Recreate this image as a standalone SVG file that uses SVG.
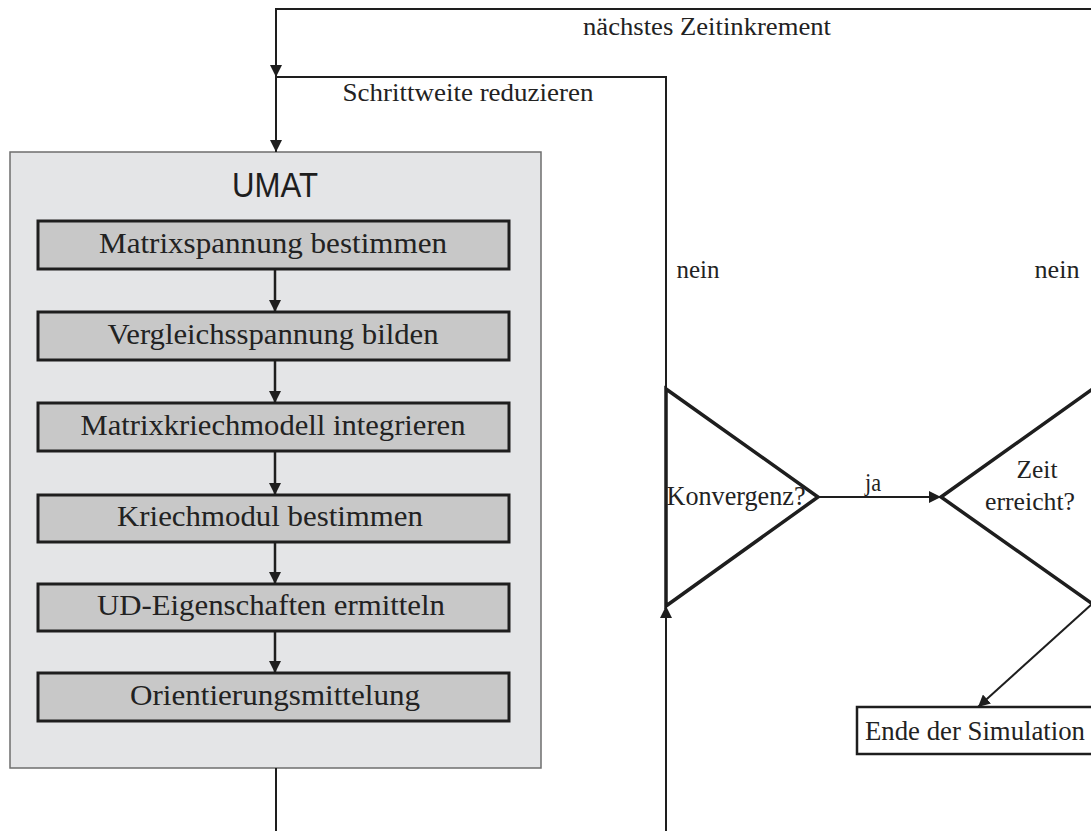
<svg xmlns="http://www.w3.org/2000/svg" width="1091" height="831" viewBox="0 0 1091 831">
<style>
.t{font-family:"Liberation Serif","DejaVu Serif",serif;fill:#222;text-anchor:middle}
.bt{font-size:30px}
.lb{font-size:25px}
.box{fill:#c8c8c8;stroke:#1e1e1e;stroke-width:3}
.tri{fill:#fff;stroke:#1e1e1e;stroke-width:3.5;stroke-linejoin:miter}
.c{fill:none;stroke:#1e1e1e;stroke-width:2}
.ci{fill:none;stroke:#1e1e1e;stroke-width:2.5}
</style>
<defs>
<marker id="ah" viewBox="0 0 10 10" refX="10" refY="5" markerWidth="12" markerHeight="12" markerUnits="userSpaceOnUse" orient="auto">
<path d="M0,0 L10,5 L0,10 z" fill="#1e1e1e"/>
</marker>
</defs>
<rect width="1091" height="831" fill="#fff"/>
<g id="umat">
<rect x="10" y="152" width="531" height="616" fill="#e4e5e7" stroke="#6e6e6e" stroke-width="1.5"/>
<text x="275" y="197" font-family="Liberation Sans, Arial, sans-serif" font-size="35" fill="#1e1e1e" text-anchor="middle" textLength="86" lengthAdjust="spacingAndGlyphs">UMAT</text>
</g>
<g id="n1"><rect class="box" x="38" y="221" width="471" height="48"/><text class="t bt" x="273" y="253" textLength="348" lengthAdjust="spacingAndGlyphs">Matrixspannung bestimmen</text></g>
<g id="n2"><rect class="box" x="38" y="312" width="471" height="48"/><text class="t bt" x="273" y="344" textLength="331" lengthAdjust="spacingAndGlyphs">Vergleichsspannung bilden</text></g>
<g id="n3"><rect class="box" x="38" y="403" width="471" height="48"/><text class="t bt" x="273" y="435" textLength="385" lengthAdjust="spacingAndGlyphs">Matrixkriechmodell integrieren</text></g>
<g id="n4"><rect class="box" x="38" y="495" width="471" height="47"/><text class="t bt" x="270" y="526" textLength="306" lengthAdjust="spacingAndGlyphs">Kriechmodul bestimmen</text></g>
<g id="n5"><rect class="box" x="38" y="584" width="471" height="47"/><text class="t bt" x="271" y="615" textLength="348" lengthAdjust="spacingAndGlyphs">UD-Eigenschaften ermitteln</text></g>
<g id="n6"><rect class="box" x="38" y="673" width="471" height="48"/><text class="t bt" x="275" y="705" textLength="290" lengthAdjust="spacingAndGlyphs">Orientierungsmittelung</text></g>
<g id="konvergenz">
<polygon class="tri" points="666,389 666,606 818,497"/>
<text class="t" x="736" y="505" font-size="27" textLength="139" lengthAdjust="spacingAndGlyphs">Konvergenz?</text>
</g>
<g id="zeit">
<polygon class="tri" points="941,497 1094,388 1094,605"/>
<text class="t" x="1037" y="478" font-size="26" textLength="41" lengthAdjust="spacingAndGlyphs">Zeit</text>
<text class="t" x="1030" y="510" font-size="26" textLength="90" lengthAdjust="spacingAndGlyphs">erreicht?</text>
</g>
<g id="ende">
<rect x="857" y="707" width="240" height="47" fill="#fff" stroke="#1e1e1e" stroke-width="2.5"/>
<text class="t" x="975" y="740" font-size="28" textLength="220" lengthAdjust="spacingAndGlyphs">Ende der Simulation</text>
</g>
<g id="connectors">
<line class="ci" x1="275" y1="269" x2="275" y2="312" marker-end="url(#ah)"/>
<line class="ci" x1="275" y1="360" x2="275" y2="403" marker-end="url(#ah)"/>
<line class="ci" x1="275" y1="451" x2="275" y2="495" marker-end="url(#ah)"/>
<line class="ci" x1="275" y1="542" x2="275" y2="584" marker-end="url(#ah)"/>
<line class="ci" x1="275" y1="631" x2="275" y2="673" marker-end="url(#ah)"/>
<path class="c" d="M1094,388 V9 H276 V77" marker-end="url(#ah)"/>
<path class="c" d="M666,389 V77 H276 V152" marker-end="url(#ah)"/>
<line class="c" x1="276" y1="768" x2="276" y2="831"/>
<line class="c" x1="666" y1="831" x2="666" y2="606" marker-end="url(#ah)"/>
<line class="c" x1="818" y1="497" x2="941" y2="497" marker-end="url(#ah)"/>
<line class="c" x1="1092" y1="604" x2="978" y2="707" marker-end="url(#ah)"/>
<text class="t lb" x="707" y="35" textLength="248" lengthAdjust="spacingAndGlyphs">nächstes Zeitinkrement</text>
<text class="t lb" x="468" y="101" textLength="251" lengthAdjust="spacingAndGlyphs">Schrittweite reduzieren</text>
<text class="t lb" x="698" y="278" textLength="43" lengthAdjust="spacingAndGlyphs">nein</text>
<text class="t lb" x="1057" y="278" textLength="45" lengthAdjust="spacingAndGlyphs">nein</text>
<text class="t lb" x="873" y="491" textLength="16" lengthAdjust="spacingAndGlyphs">ja</text>
</g>
</svg>
